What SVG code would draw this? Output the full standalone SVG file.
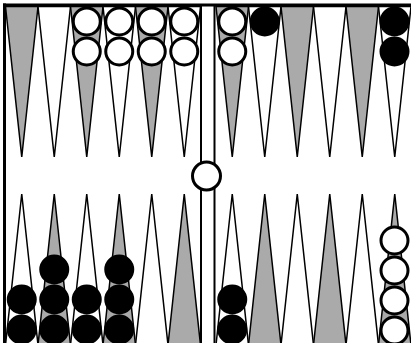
<svg xmlns="http://www.w3.org/2000/svg" width="411" height="343" viewBox="0 0 411 343">
<style>
.pt{stroke:#000;stroke-width:1.5;stroke-linejoin:miter}
.g{fill:#aaaaaa}
.w{fill:#ffffff}
.ck{stroke:#000;stroke-width:3}
.wc{fill:#ffffff}
.bc{fill:#000000}
.frame{fill:none;stroke:#000;stroke-width:3}
.bar{fill:none;stroke:#000;stroke-width:2}
</style>
<rect x="0" y="0" width="411" height="343" fill="#ffffff"/>
<g id="points">
<polygon class="pt g" points="5.5,6.5 38,6.5 21.75,157"/>
<polygon class="pt w" points="38,6.5 70.5,6.5 54.25,157"/>
<polygon class="pt g" points="70.5,6.5 103,6.5 86.75,157"/>
<polygon class="pt w" points="103,6.5 135.5,6.5 119.25,157"/>
<polygon class="pt g" points="135.5,6.5 168,6.5 151.75,157"/>
<polygon class="pt w" points="168,6.5 200.5,6.5 184.25,157"/>
<polygon class="pt g" points="216,6.5 248.5,6.5 232.25,157"/>
<polygon class="pt w" points="248.5,6.5 281,6.5 264.75,157"/>
<polygon class="pt g" points="281,6.5 313.5,6.5 297.25,157"/>
<polygon class="pt w" points="313.5,6.5 346,6.5 329.75,157"/>
<polygon class="pt g" points="346,6.5 378.5,6.5 362.25,157"/>
<polygon class="pt w" points="378.5,6.5 411,6.5 394.75,157"/>
<polygon class="pt w" points="5.5,345 38,345 21.75,194"/>
<polygon class="pt g" points="38,345 70.5,345 54.25,194"/>
<polygon class="pt w" points="70.5,345 103,345 86.75,194"/>
<polygon class="pt g" points="103,345 135.5,345 119.25,194"/>
<polygon class="pt w" points="135.5,345 168,345 151.75,194"/>
<polygon class="pt g" points="168,345 200.5,345 184.25,194"/>
<polygon class="pt w" points="216,345 248.5,345 232.25,194"/>
<polygon class="pt g" points="248.5,345 281,345 264.75,194"/>
<polygon class="pt w" points="281,345 313.5,345 297.25,194"/>
<polygon class="pt g" points="313.5,345 346,345 329.75,194"/>
<polygon class="pt w" points="346,345 378.5,345 362.25,194"/>
<polygon class="pt g" points="378.5,345 411,345 394.75,194"/>
</g>
<g id="board">
<line class="frame" x1="3" y1="5" x2="411" y2="5"/>
<line class="frame" x1="4.5" y1="3.5" x2="4.5" y2="343"/>
<line class="bar" x1="201" y1="5" x2="201" y2="343"/>
<line class="bar" x1="214.5" y1="5" x2="214.5" y2="343"/>
</g>
<g id="checkers-top-left">
<circle class="ck wc" cx="86.75" cy="21.5" r="13.5"/>
<circle class="ck wc" cx="86.75" cy="51.5" r="13.5"/>
<circle class="ck wc" cx="119.25" cy="21.5" r="13.5"/>
<circle class="ck wc" cx="119.25" cy="51.5" r="13.5"/>
<circle class="ck wc" cx="151.75" cy="21.5" r="13.5"/>
<circle class="ck wc" cx="151.75" cy="51.5" r="13.5"/>
<circle class="ck wc" cx="184.25" cy="21.5" r="13.5"/>
<circle class="ck wc" cx="184.25" cy="51.5" r="13.5"/>
</g>
<g id="checkers-top-right">
<circle class="ck wc" cx="232.25" cy="21.5" r="13.5"/>
<circle class="ck wc" cx="232.25" cy="51.5" r="13.5"/>
<circle class="ck bc" cx="264.75" cy="21.5" r="13.5"/>
<circle class="ck bc" cx="394.5" cy="21.5" r="13.5"/>
<circle class="ck bc" cx="394.5" cy="51.5" r="13.5"/>
</g>
<g id="checkers-bottom-left">
<circle class="ck bc" cx="21.75" cy="329.5" r="13.5"/>
<circle class="ck bc" cx="21.75" cy="299.5" r="13.5"/>
<circle class="ck bc" cx="54.25" cy="329.5" r="13.5"/>
<circle class="ck bc" cx="54.25" cy="299.5" r="13.5"/>
<circle class="ck bc" cx="54.25" cy="269.5" r="13.5"/>
<circle class="ck bc" cx="86.75" cy="329.5" r="13.5"/>
<circle class="ck bc" cx="86.75" cy="299.5" r="13.5"/>
<circle class="ck bc" cx="119.25" cy="329.5" r="13.5"/>
<circle class="ck bc" cx="119.25" cy="299.5" r="13.5"/>
<circle class="ck bc" cx="119.25" cy="269.5" r="13.5"/>
</g>
<g id="checkers-bottom-right">
<circle class="ck bc" cx="232.25" cy="329.5" r="13.5"/>
<circle class="ck bc" cx="232.25" cy="299.5" r="13.5"/>
<circle class="ck wc" cx="394.5" cy="330.5" r="13.5"/>
<circle class="ck wc" cx="394.5" cy="300.5" r="13.5"/>
<circle class="ck wc" cx="394.5" cy="270.5" r="13.5"/>
<circle class="ck wc" cx="394.5" cy="240.5" r="13.5"/>
</g>
<g id="bar-checker">
<circle class="ck wc" cx="206.5" cy="176" r="14"/>
</g>
</svg>
